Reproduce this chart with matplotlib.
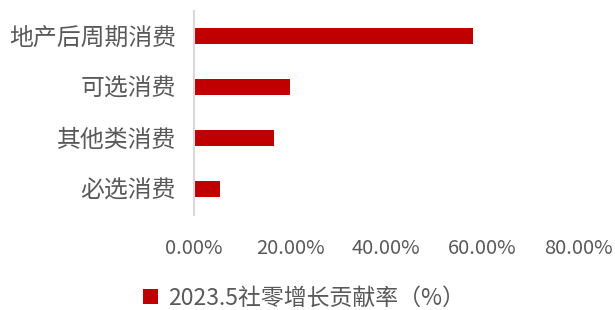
import matplotlib
matplotlib.use("Agg")
import matplotlib.pyplot as plt
from matplotlib.ticker import FuncFormatter

plt.rcParams['font.family'] = ['Noto Sans CJK SC', 'DejaVu Sans']

categories = ['地产后周期消费', '可选消费', '其他类消费', '必选消费']
values = [58.1, 19.9, 16.7, 5.4]
xticks = [0, 20, 40, 60, 80]
series_name = '2023.5社零增长贡献率（%）'

text_color = '#595959'

fig = plt.figure(figsize=(6.15, 3.1), dpi=100)
ax = fig.add_axes([0.3155, 0.308, 0.6243, 0.658])

ypos = list(range(len(categories)))[::-1]
ax.barh(ypos, values, height=0.31, color='#C00000', label=series_name)

ax.set_xlim(0, 80)
ax.set_ylim(-0.5, len(categories) - 0.5)
ax.set_yticks(ypos)
ax.set_yticklabels(categories, fontsize=17.2, color=text_color)
ax.set_xticks(xticks)
ax.xaxis.set_major_formatter(FuncFormatter(lambda v, p: f'{v:.2f}%'))
ax.tick_params(axis='x', length=0, pad=17, labelsize=14.5, labelcolor=text_color)
ax.tick_params(axis='y', length=0, pad=13)

for s in ['top', 'right', 'bottom']:
    ax.spines[s].set_visible(False)
ax.spines['left'].set_color('#D9D9D9')
ax.spines['left'].set_linewidth(1.5)

fig.legend(loc='center', bbox_to_anchor=(0.495, 0.039), frameon=False,
           fontsize=16.5, handlelength=0.65, handleheight=0.65, handletextpad=0.45,
           labelcolor=text_color)

fig.savefig('out.png', dpi=100)
